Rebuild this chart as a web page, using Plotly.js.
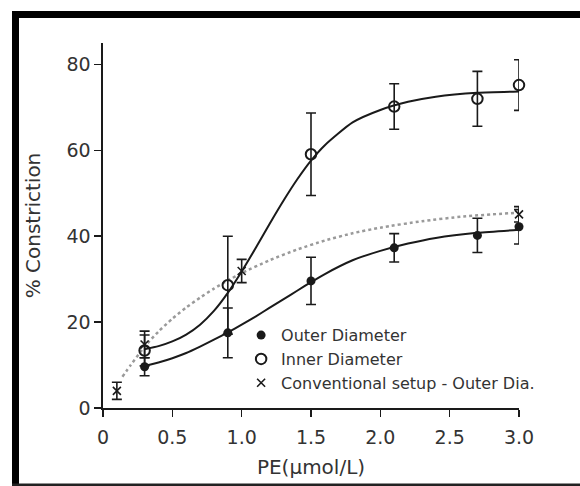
<!DOCTYPE html>
<html>
<head>
<meta charset="utf-8">
<script src="https://cdn.plot.ly/plotly-3.0.1.min.js"></script>
<style>
  html, body { margin: 0; padding: 0; background: #fff; overflow: hidden; }
  #chart { width: 580px; height: 486px; }
</style>
</head>
<body>
<div id="chart"></div>
<script>
// Measured points
const doseX = [0.3, 0.9, 1.5, 2.1, 2.7, 3.0];
const outerDia = [9.6, 17.5, 29.6, 37.3, 40.2, 42.2];
const outerErr = [2.1, 5.8, 5.5, 3.3, 4.0, 4.0];
const innerDia = [13.4, 28.6, 59.1, 70.2, 72.0, 75.2];
const innerErr = [3.6, 11.4, 9.6, 5.3, 6.4, 5.9];
const convX = [0.1, 0.3, 1.0, 3.0];
const convDia = [4.0, 14.8, 31.9, 45.1];
const convErr = [2.0, 3.1, 2.7, 1.8];

// Fitted curves
const fitX = [0.3, 0.4, 0.5, 0.6, 0.7, 0.8, 0.9, 1.0, 1.1, 1.2, 1.3, 1.4, 1.5, 1.6, 1.8, 2.0, 2.2, 2.4, 2.7, 3.0];
const innerFit = [13.7, 14.4, 15.5, 17.1, 19.4, 22.6, 26.8, 31.8, 37.2, 42.8, 48.2, 53.2, 57.6, 61.2, 66.5, 69.4, 71.3, 72.5, 73.4, 73.7];
const outerFit = [9.8, 10.6, 11.6, 12.8, 14.3, 15.9, 17.6, 19.4, 21.3, 23.3, 25.3, 27.3, 29.3, 31.2, 34.4, 36.6, 38.3, 39.6, 40.8, 41.5];
const convFitX = [0.14, 0.2, 0.3, 0.4, 0.5, 0.6, 0.7, 0.8, 0.9, 1.0, 1.2, 1.4, 1.6, 1.8, 2.0, 2.3, 2.6, 3.0];
const convFit = [7.3, 10.0, 14.3, 17.8, 20.8, 23.4, 25.7, 27.8, 29.7, 31.4, 34.4, 36.9, 39.0, 40.7, 42.0, 43.5, 44.6, 45.5];

const xTicks = [0, 0.5, 1.0, 1.5, 2.0, 2.5, 3.0];
const xTickText = ['0', '0.5', '1.0', '1.5', '2.0', '2.5', '3.0'];
const yTicks = [0, 20, 40, 60, 80];

const legendNames = ['Outer Diameter', 'Inner Diameter', 'Conventional setup - Outer Dia.'];

const ink = '#1a1a1a';
const errStyle = (arr) => ({type: 'data', array: arr, visible: true, color: ink, thickness: 1.6, width: 5});

const traces = [
  {x: convFitX, y: convFit, mode: 'lines', line: {color: '#9a9a9a', width: 2.5, dash: 'dot', shape: 'spline', smoothing: 0.6},
   showlegend: false, hoverinfo: 'skip', cliponaxis: false},
  {x: fitX, y: outerFit, mode: 'lines', line: {color: ink, width: 2, shape: 'spline', smoothing: 0.6},
   showlegend: false, hoverinfo: 'skip', cliponaxis: false},
  {x: fitX, y: innerFit, mode: 'lines', line: {color: ink, width: 2, shape: 'spline', smoothing: 0.6},
   showlegend: false, hoverinfo: 'skip', cliponaxis: false},
  {x: doseX, y: outerDia, name: legendNames[0], mode: 'markers', error_y: errStyle(outerErr),
   marker: {symbol: 'circle', size: 9, color: ink}, cliponaxis: false},
  {x: doseX, y: innerDia, name: legendNames[1], mode: 'markers', error_y: errStyle(innerErr),
   marker: {symbol: 'circle-open', size: 10.5, color: ink, line: {width: 2, color: ink}}, cliponaxis: false},
  {x: convX, y: convDia, name: legendNames[2], mode: 'markers', error_y: errStyle(convErr),
   marker: {symbol: 'x-thin-open', size: 8, color: ink, line: {width: 1.6, color: ink}}, cliponaxis: false}
];

// Figure frame (paper coordinates; plot area is 416 x 365 px starting at 103, 43)
const W = 416, H = 365, L = 103, T = 43;
const px = (v) => (v - L) / W;
const py = (v) => (T + H - v) / H;

const font = 'DejaVu Sans, Arial, sans-serif';
const layout = {
  width: 580, height: 486,
  margin: {l: L, r: 580 - L - W, t: T, b: 486 - T - H},
  paper_bgcolor: '#fff', plot_bgcolor: '#fff',
  font: {family: font, color: '#333'},
  showlegend: true,
  legend: {x: 0.332, y: 0.246, xanchor: 'left', yanchor: 'top', bgcolor: 'rgba(0,0,0,0)',
           font: {family: font, size: 16, color: '#333'}, itemwidth: 30, tracegroupgap: 0},
  shapes: [
    {type: 'path', xref: 'paper', yref: 'paper',
     path: `M ${px(15.5)} ${py(490)} L ${px(15.5)} ${py(14.5)} L ${px(600)} ${py(14.5)}`,
     line: {color: '#000', width: 7}},
    {type: 'line', xref: 'paper', yref: 'paper', x0: px(12), x1: px(600), y0: py(485), y1: py(485),
     line: {color: '#222', width: 3}}
  ],
  xaxis: {range: [0, 3.0], tickvals: xTicks, ticktext: xTickText, showgrid: false, zeroline: false,
          showline: true, linecolor: ink, linewidth: 1.6, ticks: 'outside', ticklen: 7, tickwidth: 1.6, tickcolor: ink,
          ticklabelstandoff: 5,
          tickfont: {family: font, size: 19, color: '#333'},
          title: {text: 'PE(μmol/L)', font: {family: font, size: 20, color: '#333'}, standoff: 12}},
  yaxis: {range: [0, 85], tickvals: yTicks, showgrid: false, zeroline: false,
          showline: true, linecolor: ink, linewidth: 1.6, ticks: 'outside', ticklen: 7, tickwidth: 1.6, tickcolor: ink,
          tickfont: {family: font, size: 19, color: '#333'},
          title: {text: '% Constriction', font: {family: font, size: 20, color: '#333'}, standoff: 20}}
};

Plotly.newPlot('chart', traces, layout, {displayModeBar: false, staticPlot: true});
</script>
</body>
</html>
